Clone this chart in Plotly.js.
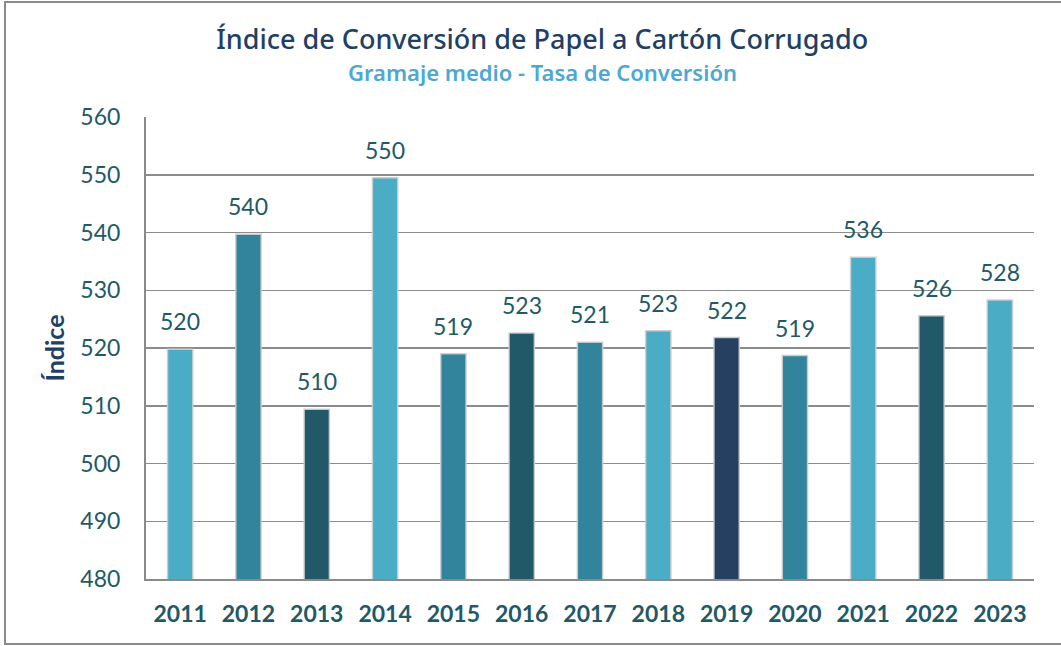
<!DOCTYPE html>
<html>
<head>
<meta charset="utf-8">
<script src="https://cdn.plot.ly/plotly-3.0.1.min.js"></script>
<style>
  html, body { margin: 0; padding: 0; background: #ffffff; }
  #chart { width: 1061px; height: 646px; position: relative; }
  #frame { position: absolute; left: 4px; top: 1px; width: 1070px; height: 644px;
           border-left: 2px solid #8a8a8a; border-top: 2px solid #8a8a8a; border-bottom: 2px solid #8a8a8a;
           box-sizing: border-box; pointer-events: none; }
</style>
</head>
<body>
<div id="chart"></div>
<div id="frame"></div>
<script>
const years = ['2011','2012','2013','2014','2015','2016','2017','2018','2019','2020','2021','2022','2023'];
const values = [519.8, 539.7, 509.4, 549.5, 519.0, 522.6, 521.0, 523.0, 521.8, 518.7, 535.7, 525.6, 528.3];
const labels = ['520','540','510','550','519','523','521','523','522','519','536','526','528'];
const barColors = ['#4BACC6','#31849B','#215968','#4BACC6','#31849B','#215968','#31849B','#4BACC6','#254061','#31849B','#4BACC6','#215968','#4BACC6'];
const yTicks = [480, 490, 500, 510, 520, 530, 540, 550, 560];

const titleText = 'Índice de Conversión de Papel a Cartón Corrugado';
const subtitleText = 'Gramaje medio - Tasa de Conversión';
const yTitle = 'Índice';

const labelFont = 'Lato, "Open Sans", sans-serif';

const trace = {
  type: 'bar',
  x: years,
  y: values,
  marker: { color: barColors, line: { color: 'rgba(205,205,205,0.9)', width: 1.5 } },
  width: 0.37,
  hoverinfo: 'x+y'
};

const annotations = years.map((yr, i) => ({
  x: i, y: values[i], xref: 'x', yref: 'y',
  text: labels[i], showarrow: false,
  yanchor: 'bottom', yshift: 12,
  font: { family: labelFont, size: 23, color: '#215968' }
}));

annotations.push({
  x: 0.446, y: 1.097, xref: 'paper', yref: 'paper', xanchor: 'center', yanchor: 'middle',
  text: subtitleText, showarrow: false,
  font: { family: '"Noto Sans", sans-serif', size: 22, color: '#4BA9D4', weight: 600 }
});

const layout = {
  width: 1061, height: 646,
  margin: { l: 146, r: 27, t: 117, b: 67, pad: 0 },
  paper_bgcolor: '#ffffff', plot_bgcolor: '#ffffff',
  showlegend: false,
  title: {
    text: titleText,
    x: 0.511, xref: 'container', xanchor: 'center',
    y: 1 - 40/646, yref: 'container', yanchor: 'middle',
    font: { family: '"Noto Sans", sans-serif', size: 27, color: '#1F3F66', weight: 500 }
  },
  xaxis: {
    type: 'category',
    categoryorder: 'array', categoryarray: years,
    range: [-0.5, years.length - 0.5], autorange: false,
    tickfont: { family: labelFont, size: 23, color: '#215968', weight: 700 },
    ticks: 'outside', ticklen: 13, tickcolor: 'rgba(0,0,0,0)',
    showline: true, linecolor: '#8a8a8a', linewidth: 2,
    showgrid: false, fixedrange: true
  },
  yaxis: {
    range: [480, 560], autorange: false,
    tickvals: yTicks,
    ticktext: yTicks.map(String),
    tickfont: { family: labelFont, size: 23, color: '#215968' },
    ticks: 'outside', ticklen: 19, tickcolor: 'rgba(0,0,0,0)',
    showline: true, linecolor: '#8a8a8a', linewidth: 2,
    showgrid: true, gridcolor: '#8c8c8c', gridwidth: 1.5,
    zeroline: false, fixedrange: true,
    title: { text: yTitle, standoff: 9,
             font: { family: labelFont, size: 25, color: '#1F3F66', weight: 700 } }
  },
  annotations: annotations
};

Plotly.newPlot('chart', [trace], layout, { displayModeBar: false, staticPlot: true });
</script>
</body>
</html>
